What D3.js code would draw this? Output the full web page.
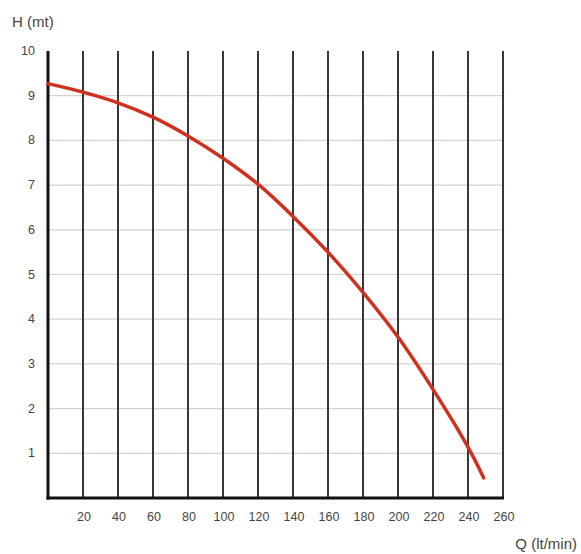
<!DOCTYPE html>
<html>
<head>
<meta charset="UTF-8">
<script src="https://d3js.org/d3.v7.min.js"></script>
<style>
  body { margin: 0; background: #fff; }
  text { font-family: "Liberation Sans Narrow", "Liberation Sans", Arial, sans-serif; fill: #444; }
</style>
</head>
<body>
<div id="chart"></div>
<script>
  // pump curve: flow Q (lt/min) vs head H (mt)
  const flow = [0, 20, 40, 60, 80, 100, 120, 140, 160, 180, 200, 220, 240, 249];
  const head = [9.27, 9.08, 8.84, 8.52, 8.1, 7.6, 7.02, 6.3, 5.5, 4.6, 3.6, 2.43, 1.14, 0.45];
  const xTicks = [20, 40, 60, 80, 100, 120, 140, 160, 180, 200, 220, 240, 260];
  const yTicks = [1, 2, 3, 4, 5, 6, 7, 8, 9, 10];

  const width = 581, height = 554;
  const svg = d3.select("#chart").append("svg")
    .attr("width", width).attr("height", height);

  const x = d3.scaleLinear().domain([0, 260]).range([48, 503]);
  const y = d3.scaleLinear().domain([0, 10]).range([498, 51]);

  // horizontal grid (light)
  svg.selectAll(".hgrid")
    .data(yTicks.filter(d => d < 10))
    .enter().append("line")
    .attr("x1", x(0)).attr("x2", x(260))
    .attr("y1", d => y(d)).attr("y2", d => y(d))
    .attr("stroke", "#d9cfcf").attr("stroke-width", 1.2);

  // vertical grid (dark)
  svg.selectAll(".vgrid")
    .data(xTicks)
    .enter().append("line")
    .attr("x1", d => x(d)).attr("x2", d => x(d))
    .attr("y1", y(10)).attr("y2", y(0))
    .attr("stroke", "#3a3636").attr("stroke-width", 2);

  // axes
  svg.append("line")
    .attr("x1", x(0)).attr("x2", x(0)).attr("y1", y(10)).attr("y2", y(0) + 1.5)
    .attr("stroke", "#111").attr("stroke-width", 3);
  svg.append("line")
    .attr("x1", x(0) - 1.5).attr("x2", x(260) + 1).attr("y1", y(0)).attr("y2", y(0))
    .attr("stroke", "#111").attr("stroke-width", 3);

  // tick labels
  svg.selectAll(".xlab")
    .data(xTicks)
    .enter().append("text")
    .attr("x", d => x(d) + 1).attr("y", 521)
    .attr("text-anchor", "middle")
    .style("font-size", "12.5px")
    .text(d => d);

  svg.selectAll(".ylab")
    .data(yTicks)
    .enter().append("text")
    .attr("x", 35).attr("y", d => y(d) + 4)
    .attr("text-anchor", "end")
    .style("font-size", "12.5px")
    .text(d => d);

  // axis titles
  svg.append("text").attr("x", 12).attr("y", 27)
    .style("font-size", "15px").text("H (mt)");
  svg.append("text").attr("x", 577).attr("y", 549)
    .attr("text-anchor", "end")
    .style("font-size", "15px").text("Q (lt/min)");

  // curve
  const pts = flow.map((q, i) => [q, head[i]]);
  svg.append("path")
    .datum(pts)
    .attr("fill", "none")
    .attr("stroke", "#d0301f")
    .attr("stroke-width", 3.5)
    .attr("stroke-linecap", "round")
    .attr("d", d3.line().x(d => x(d[0])).y(d => y(d[1])).curve(d3.curveCatmullRom));
</script>
</body>
</html>
